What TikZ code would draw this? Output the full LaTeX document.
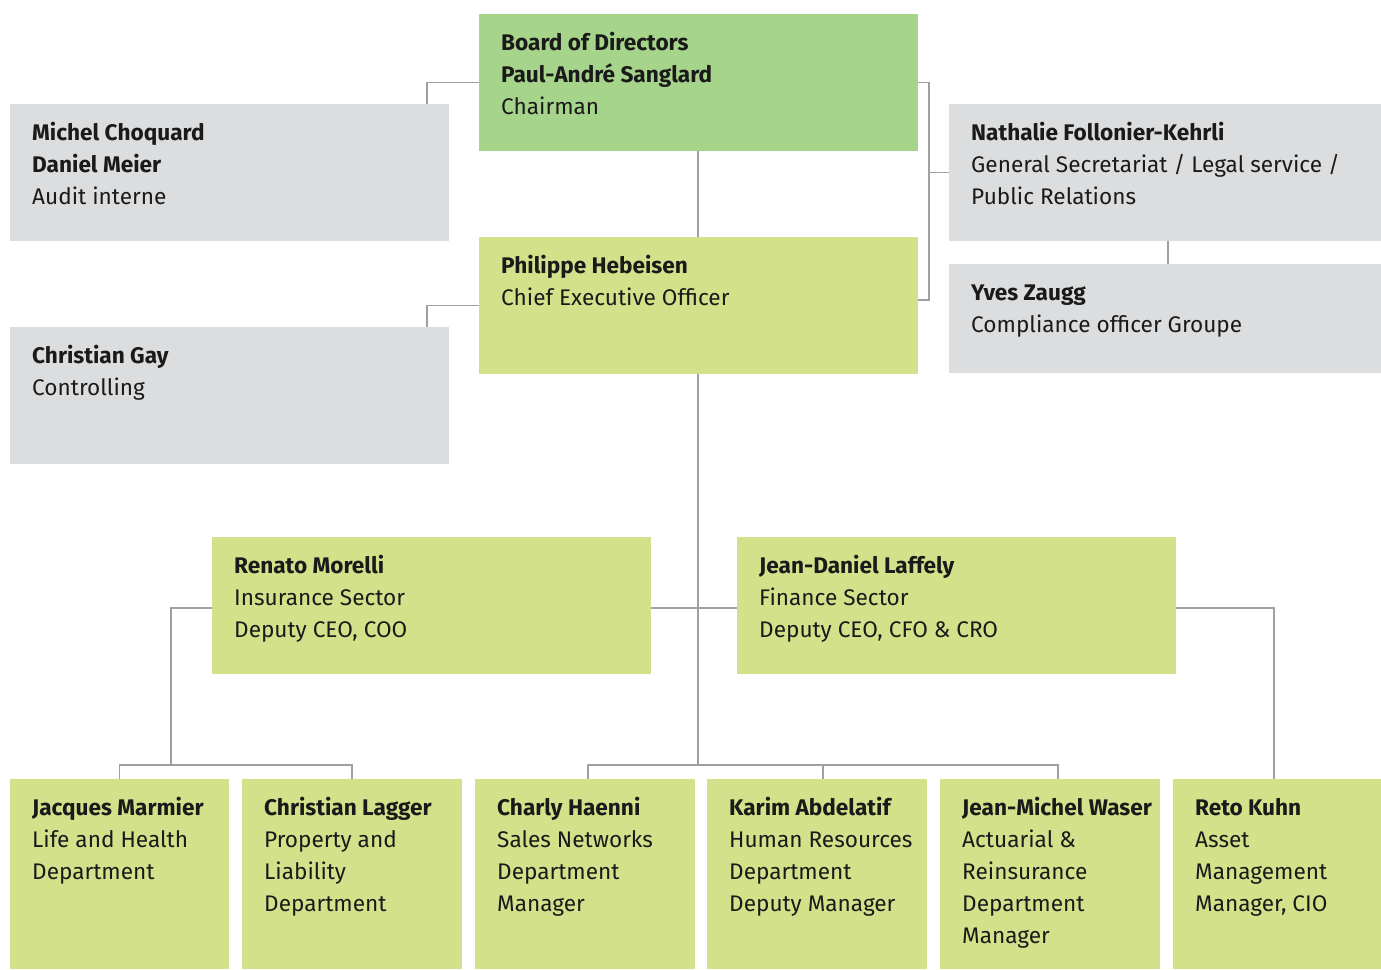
\documentclass[tikz,border=0pt]{standalone}
\usepackage{fontspec}
\setmainfont{Fira Sans}
\definecolor{boardgreen}{HTML}{A6D48A}
\definecolor{lightgreen}{HTML}{D3E28A}
\definecolor{boxgray}{HTML}{DCDDDF}
\definecolor{linegray}{HTML}{A0A0A0}
\definecolor{textc}{HTML}{1A1A1A}
\begin{document}
\begin{tikzpicture}[x=1pt,y=-1pt,
  box/.style={rectangle, inner sep=0pt, outer sep=0pt, anchor=north west, draw=none},
  bgreen/.style={box, fill=boardgreen},
  lgreen/.style={box, fill=lightgreen},
  gbox/.style={box, fill=boxgray},
  txt/.style={anchor=north west, inner sep=0pt, align=left, text=textc,
    font=\fontsize{22.6}{32}\selectfont},
  conn/.style={draw=linegray, line width=1.8pt}]
\useasboundingbox (0,0) rectangle (1381,969);

% boxes
\node[bgreen, minimum width=439pt, minimum height=137pt] (board) at (479,14) {};
\node[gbox, minimum width=439pt, minimum height=137pt] (michel) at (10,104) {};
\node[gbox, minimum width=432pt, minimum height=137pt] (nath) at (949,104) {};
\node[lgreen, minimum width=439pt, minimum height=137pt] (ceo) at (479,237) {};
\node[gbox, minimum width=439pt, minimum height=137pt] (gay) at (10,327) {};
\node[gbox, minimum width=432pt, minimum height=109pt] (yves) at (949,264) {};
\node[lgreen, minimum width=439pt, minimum height=137pt] (renato) at (212,537) {};
\node[lgreen, minimum width=439pt, minimum height=137pt] (jd) at (737,537) {};
\node[lgreen, minimum width=219pt, minimum height=190pt] (marmier) at (10,779) {};
\node[lgreen, minimum width=220pt, minimum height=190pt] (lagger) at (242,779) {};
\node[lgreen, minimum width=220pt, minimum height=190pt] (haenni) at (475,779) {};
\node[lgreen, minimum width=220pt, minimum height=190pt] (abdel) at (707,779) {};
\node[lgreen, minimum width=220pt, minimum height=190pt] (waser) at (940,779) {};
\node[lgreen, minimum width=208pt, minimum height=190pt] (kuhn) at (1173,779) {};

% texts
\newcommand{\boxtext}[3]{\node[txt] (#2) at ([xshift=22pt,yshift=-13.6pt]#1.north west) {\strut #3};}
\boxtext{board}{boardt}{\textbf{Board of Directors}\\\textbf{Paul-André Sanglard}\\Chairman}
\boxtext{michel}{michelt}{\textbf{Michel Choquard}\\\textbf{Daniel Meier}\\Audit interne}
\boxtext{nath}{datht}{\textbf{Nathalie Follonier-Kehrli}\\General Secretariat / Legal service /\\Public Relations}
\boxtext{ceo}{ceot}{\textbf{Philippe Hebeisen}\\Chief Executive Officer}
\boxtext{gay}{gayt}{\textbf{Christian Gay}\\Controlling}
\boxtext{yves}{yvest}{\textbf{Yves Zaugg}\\Compliance officer Groupe}
\boxtext{renato}{renatot}{\textbf{Renato Morelli}\\Insurance Sector\\Deputy CEO, COO}
\boxtext{jd}{jdt}{\textbf{Jean-Daniel Laffely}\\Finance Sector\\Deputy CEO, CFO \& CRO}
\boxtext{marmier}{marmiert}{\textbf{Jacques Marmier}\\Life and Health\\Department}
\boxtext{lagger}{laggert}{\textbf{Christian Lagger}\\Property and\\Liability\\Department}
\boxtext{haenni}{haennit}{\textbf{Charly Haenni}\\Sales Networks\\Department\\Manager}
\boxtext{abdel}{abdelt}{\textbf{Karim Abdelatif}\\Human Resources\\Department\\Deputy Manager}
\boxtext{waser}{wasert}{\textbf{Jean-Michel Waser}\\Actuarial \&\\Reinsurance\\Department\\Manager}
\boxtext{kuhn}{kuhnt}{\textbf{Reto Kuhn}\\Asset\\Management\\Manager, CIO}

% junction coordinates
\coordinate (rb) at (929,172.5);
\coordinate (lbar) at (171,765);
\coordinate (midbar) at (698,765);
\coordinate (m1) at (588,765);
\coordinate (m2) at (823,765);
\coordinate (m3) at (1058,765);

% connectors
\draw[conn] (board.west) -| ([xshift=-22pt]michel.north east);
\draw[conn] (ceo.west) -| ([xshift=-22pt]gay.north east);
\draw[conn] (board.east) -| (rb) |- ([yshift=5.5pt]ceo.east);
\draw[conn] (rb) -- (nath.west);
\draw[conn] ([xshift=3pt]nath.south) -- ([xshift=3pt]yves.north);
\draw[conn] (midbar |- board.south) -- (midbar |- ceo.north);
\draw[conn] (midbar |- ceo.south) -- (midbar);
\draw[conn] ([yshift=-2.5pt]renato.east) -- ([yshift=-2.5pt]jd.west);
\draw[conn] ([yshift=-2.5pt]renato.west) -| (lbar);
\draw[conn] (marmier.north) |- (lbar) -| (lagger.north);
\draw[conn] (m1 |- haenni.north) -- (m1) -- (m3) -- (m3 |- waser.north);
\draw[conn] (m2) -- (m2 |- abdel.north);
\draw[conn] ([yshift=-2.5pt]jd.east) -| ([xshift=-3pt]kuhn.north);
\end{tikzpicture}
\end{document}
